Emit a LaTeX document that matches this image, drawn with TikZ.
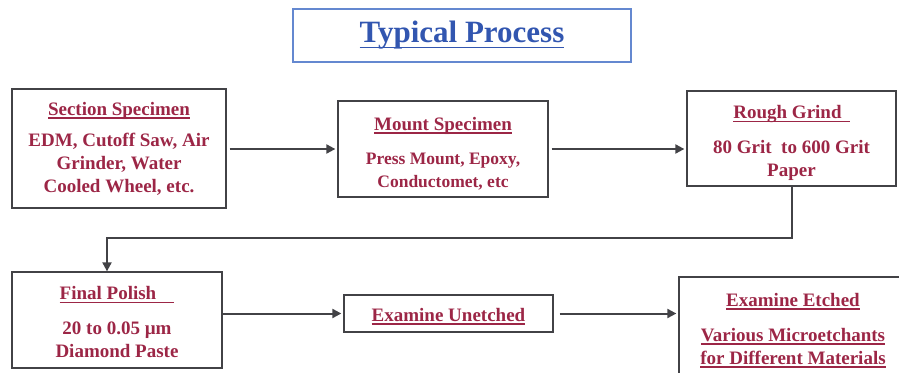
\documentclass[tikz,border=0pt]{standalone}
\usepackage{fontspec}
\setmainfont{Liberation Serif}
\usetikzlibrary{arrows.meta}

\definecolor{stepred}{RGB}{156,38,70}
\definecolor{titleblue}{RGB}{50,86,176}
\definecolor{titleframe}{RGB}{100,136,208}
\definecolor{linegray}{RGB}{66,66,70}

% underlined heading, rule drawn under the text box
\newcommand{\ulbox}[2][3.5pt]{\sbox0{#2}\rlap{\rule[-#1]{\wd0}{1.4pt}}\usebox0}
% invisible strut on the heading line, pushes the text block down a little
\newcommand{\headstrut}[1]{\rule{0pt}{#1}}

\begin{document}
\begin{tikzpicture}[x=1pt, y=-1pt]
	\tikzstyle{stepbox}=[draw=linegray, line width=1.3pt, align=center, inner sep=2pt, text=stepred, font=\fontsize{19}{23}\selectfont\bfseries]
	\tikzstyle{flow}=[draw=linegray, line width=2pt, -{Triangle[length=9pt, width=9pt]}]
	\useasboundingbox (0,0) rectangle (899,372);
	\clip (0,0) rectangle (899,372);

	\node[draw=titleframe, line width=1.2pt, minimum width=338pt, minimum height=53pt, text=titleblue, font=\fontsize{31}{34}\selectfont\bfseries] (title) at (462,35.5) {\ulbox[5pt]{Typical Process}};

	% first row
	\node[stepbox, minimum width=214pt, minimum height=119pt] (section) at (119,148.5) {\ulbox{Section Specimen}\\[8pt] EDM, Cutoff Saw, Air\\ Grinder, Water\\ Cooled Wheel, etc.};
	\node[stepbox, minimum width=210pt, minimum height=96pt, font=\fontsize{17.5}{23}\selectfont\bfseries] (mount) at (443,149) {\headstrut{22pt}{\fontsize{19}{23}\selectfont\ulbox{Mount Specimen}}\\[11pt] Press Mount, Epoxy,\\ Conductomet, etc};
	\node[stepbox, minimum width=209pt, minimum height=95pt] (grind) at (791.5,138.5) {\headstrut{22pt}\ulbox{Rough Grind\hspace{8pt}}\\[12pt] 80 Grit\ \ to 600 Grit\\ Paper};

	% second row
	\node[stepbox, minimum width=210pt, minimum height=96pt] (polish) at (117,320) {\headstrut{18pt}\ulbox{Final Polish\hspace{18pt}}\\[12pt] 20 to 0.05 µm\\ Diamond Paste};
	\node[stepbox, minimum width=209pt, minimum height=37pt] (unetched) at (448.5,313.5) {\headstrut{19pt}\ulbox{Examine Unetched}};
	\node[stepbox, minimum width=228pt, minimum height=98pt] (etched) at (793,326) {\headstrut{22pt}\ulbox{Examine Etched}\\[12pt] \ulbox{Various Microetchants}\\ \ulbox{for Different Materials}};

	\coordinate (turn) at (107,238);

	\draw[flow, shorten <=3pt, shorten >=2pt] (section.east |- mount) -- (mount);
	\draw[flow, shorten <=3pt, shorten >=2pt] (mount.east) -- (grind.west |- mount.east);
	\draw[flow] (grind.south) |- (turn) -- (turn |- polish.north);
	\draw[flow, shorten >=2pt] (polish.east |- unetched) -- (unetched);
	\draw[flow, shorten <=6pt, shorten >=2pt] (unetched) -- (etched.west |- unetched);
\end{tikzpicture}
\end{document}
